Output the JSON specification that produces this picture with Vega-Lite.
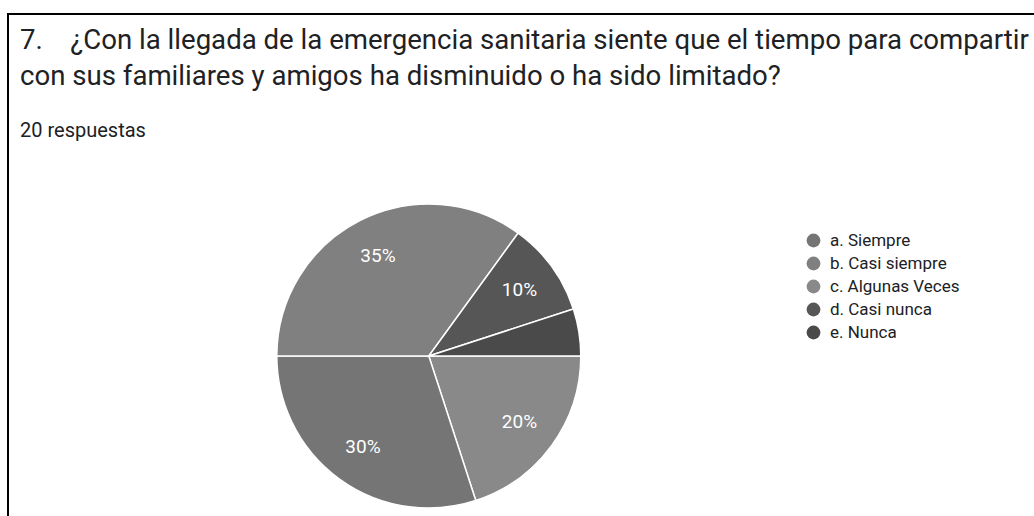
{
  "$schema": "https://vega.github.io/schema/vega-lite/v6.json",
  "autosize": "none",
  "padding": {"left": 8, "top": 14, "right": -12, "bottom": -12},
  "width": 1038,
  "height": 514,
  "background": "white",
  "title": {
    "text": ["7.\u00a0\u00a0\u00a0\u00a0¿Con la llegada de la emergencia sanitaria siente que el tiempo para compartir", "con sus familiares y amigos ha disminuido o ha sido limitado?"],
    "subtitle": "20 respuestas",
    "anchor": "start",
    "frame": "group",
    "orient": "top",
    "baseline": "top",
    "offset": -127,
    "dx": 12,
    "font": "Roboto",
    "fontSize": 27.6,
    "fontWeight": "normal",
    "color": "#202124",
    "lineHeight": 36,
    "subtitleFont": "Roboto",
    "subtitleFontSize": 20,
    "subtitleColor": "#202124",
    "subtitlePadding": 30
  },
  "data": {
    "values": [
      {"opcion": "c. Algunas Veces", "porcentaje": 20, "orden": 1, "etiqueta": "20%"},
      {"opcion": "a. Siempre", "porcentaje": 30, "orden": 2, "etiqueta": "30%"},
      {"opcion": "b. Casi siempre", "porcentaje": 35, "orden": 3, "etiqueta": "35%"},
      {"opcion": "d. Casi nunca", "porcentaje": 10, "orden": 4, "etiqueta": "10%"},
      {"opcion": "e. Nunca", "porcentaje": 5, "orden": 5, "etiqueta": ""}
    ]
  },
  "encoding": {
    "theta": {"field": "porcentaje", "type": "quantitative", "stack": true, "scale": {"range": [1.5707963, 7.8539816]}},
    "order": {"field": "orden", "type": "quantitative"},
    "x": {"datum": 0.4054, "type": "quantitative", "scale": {"domain": [0, 1], "nice": false, "zero": false}, "axis": null},
    "y": {"datum": 0.3346, "type": "quantitative", "scale": {"domain": [0, 1], "nice": false, "zero": false}, "axis": null}
  },
  "layer": [
    {
      "mark": {"type": "arc", "outerRadius": 152, "stroke": "white", "strokeWidth": 1.5},
      "encoding": {
        "color": {
          "field": "opcion",
          "type": "nominal",
          "scale": {
            "domain": ["a. Siempre", "b. Casi siempre", "c. Algunas Veces", "d. Casi nunca", "e. Nunca"],
            "range": ["#757575", "#808080", "#898989", "#565656", "#4a4a4a"]
          },
          "legend": {
            "title": null,
            "orient": "none",
            "legendX": 797,
            "legendY": 218,
            "symbolType": "circle",
            "symbolSize": 190,
            "symbolStrokeWidth": 0,
            "labelFont": "Roboto",
            "labelFontSize": 17,
            "labelColor": "#202124",
            "labelOffset": 8,
            "rowPadding": 5,
            "padding": 0
          }
        }
      }
    },
    {
      "mark": {"type": "text", "radius": 112, "font": "Roboto", "fontSize": 19, "color": "white"},
      "encoding": {
        "text": {"field": "etiqueta", "type": "nominal"}
      }
    }
  ],
  "config": {
    "view": {"stroke": "black", "strokeWidth": 2}
  }
}
